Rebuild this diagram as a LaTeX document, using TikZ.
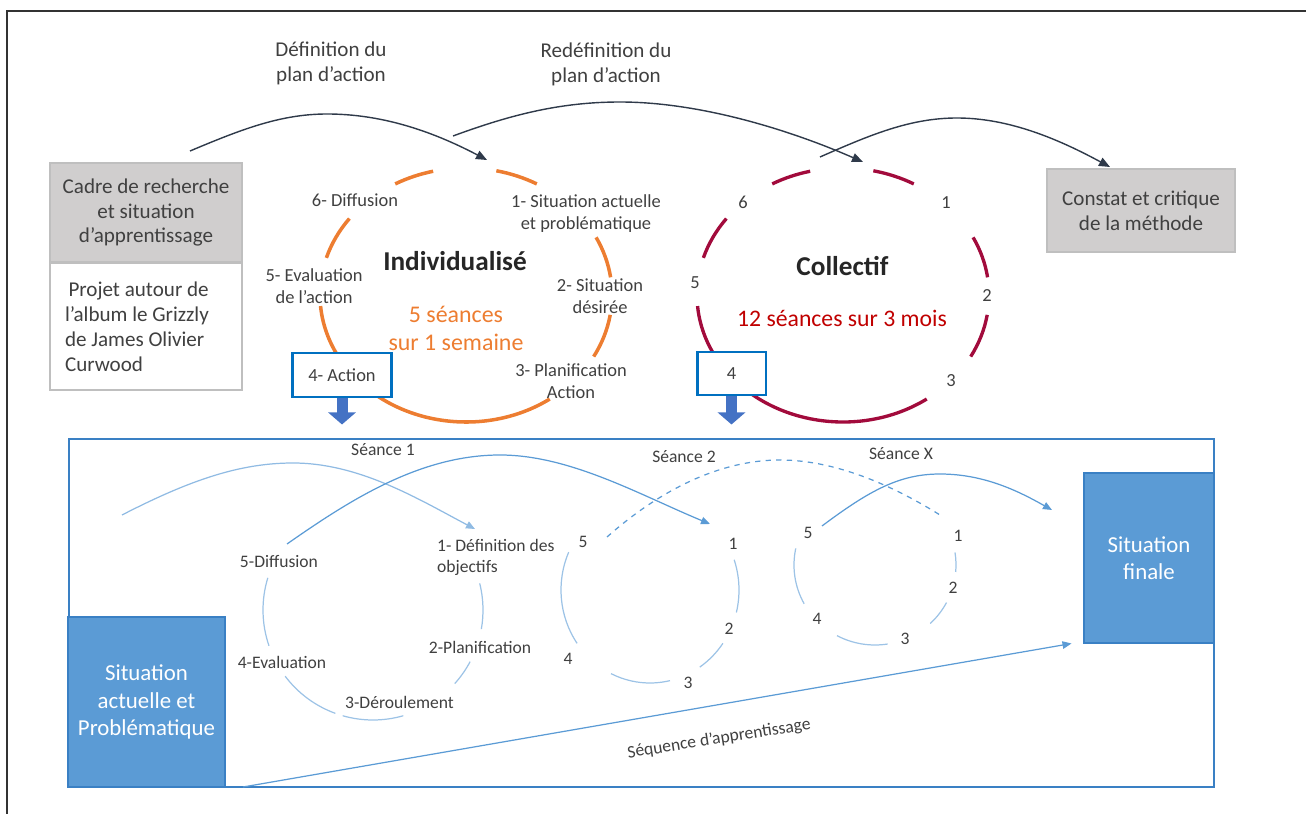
\documentclass[tikz,border=0pt]{standalone}
\usepackage{fontspec}
\setmainfont{Carlito}
\usepackage{xcolor}
\usetikzlibrary{arrows.meta,calc}
\definecolor{txt}{HTML}{404040}
\definecolor{orng}{HTML}{ED7D31}
\definecolor{crim}{HTML}{A20B3C}
\definecolor{redtxt}{HTML}{C00000}
\definecolor{boxblue}{HTML}{0070C0}
\definecolor{blockblue}{HTML}{4472C4}
\definecolor{fillblue}{HTML}{5B9BD5}
\definecolor{frameblue}{HTML}{3A80C4}
\definecolor{lineblue}{HTML}{5B9BD5}
\definecolor{lightblue}{HTML}{9DC3E6}
\definecolor{boxgray}{HTML}{D0CECE}
\definecolor{boxline}{HTML}{BFBFBF}
\definecolor{arrdark}{HTML}{2F3A4A}
\tikzset{
  lbl/.style={font=\fontsize{10.5}{12.5}\selectfont, text=txt, align=center, inner sep=1pt},
  slbl/.style={font=\fontsize{10}{12}\selectfont, text=txt, align=center, inner sep=1pt},
  ttl/.style={font=\fontsize{12}{14.2}\selectfont, text=txt, align=center, inner sep=1pt},
  graybox/.style={ttl, draw=boxline, fill=boxgray, line width=0.8pt},
  blbox/.style={lbl, draw=boxblue, line width=1.7pt, fill=white, inner sep=0pt},
  solidbox/.style={draw=frameblue, line width=0.6pt, fill=fillblue, text=white, align=center, font=\fontsize{13}{15.6}\selectfont},
  orarc/.style={draw=orng, line width=2pt},
  rdarc/.style={draw=crim, line width=1.9pt},
  cyc/.style={draw=lightblue, line width=0.7pt},
  arr/.style={draw=arrdark, line width=0.8pt, -{Triangle[length=2.2mm,width=1.8mm]}},
  barr/.style={draw=lineblue, line width=0.7pt, -{Triangle[length=1.8mm,width=1.5mm]}},
  blockarr/.style={draw=blockblue, line width=0.22cm, -{Triangle[length=0.24cm,width=0.54cm]}}}

\begin{document}
\begin{tikzpicture}[x=0.02cm,y=-0.02cm]
  \useasboundingbox (0,0) rectangle (1306,814);
  % frame
  \draw[line width=0.7pt, black!80] (7,814) -- (7,11) -- (1306,11);

  % left and right boxes
  \node[graybox, minimum width=3.84cm, minimum height=1.98cm] (cadre) at (146,212.5) {Cadre de recherche\\et situation\\d’apprentissage};
  \node[ttl, draw=boxline, line width=0.8pt, fill=white, align=flush left, text width=3.24cm, inner xsep=0.3cm, minimum height=2.54cm] (projet) at (146,326.5) {\,Projet autour de\\l’album le Grizzly\\de James Olivier\\Curwood};
  \node[graybox, minimum width=3.76cm, minimum height=1.66cm] (constat) at (1141,210.5) {Constat et critique\\de la méthode};

  % the two cycles
  \coordinate (ind) at (466,295);
  \coordinate (col) at (843,295);
  \foreach \a/\b in {241/257,282/299,333/352,9/29,55/175,197/217}{
    \draw[orarc] (ind) ++(\a:146 and 127) arc[start angle=\a, end angle=\b, x radius=146, y radius=127];
    \draw[rdarc] (col) ++(\a:146 and 127) arc[start angle=\a, end angle=\b, x radius=146, y radius=127];
  }
  \node[font=\bfseries\fontsize{15.5}{18}\selectfont, text=black!85] (indt) at (455,261) {Individualisé};
  \node[font=\fontsize{13.6}{16.4}\selectfont, text=orng, align=center] (indn) at (456,328.5) {5 séances\\sur 1 semaine};
  \node[lbl] (i6) at (355,200) {6- Diffusion};
  \node[lbl] (i1) at (586,214) {1- Situation actuelle\\et problématique};
  \node[lbl] (i5) at (314,286) {5- Evaluation\\de l’action};
  \node[lbl] (i2) at (600,296) {2- Situation\\désirée};
  \node[lbl] (i3) at (571,381) {3- Planification\\Action};
  \node[blbox, minimum width=2cm, minimum height=0.88cm] (action) at (342,375) {4- Action};

  \node[font=\bfseries\fontsize{15.5}{18}\selectfont, text=black!85] (colt) at (842.5,266) {Collectif};
  \node[font=\fontsize{13.5}{16}\selectfont, text=redtxt] (coln) at (842,318) {12 séances sur 3 mois};
  \node[lbl] (c6) at (743,202) {6};
  \node[lbl] (c1) at (946,203) {1};
  \node[lbl] (c5) at (695,283) {5};
  \node[lbl] (c2) at (987,296) {2};
  \node[lbl] (c3) at (951,381) {3};
  \node[blbox, minimum width=1.38cm, minimum height=0.86cm] (four) at (731.5,373.5) {4};

  \draw[blockarr] (action.south) -- ++(0,26);
  \draw[blockarr] (four.south) -- ++(0,28);

  % plan d'action arrows
  \node[ttl] (def) at (331,63.5) {Définition du\\plan d’action};
  \node[ttl] (redef) at (606,64) {Redéfinition du\\plan d’action};
  \coordinate (a1s) at (190,151);  \coordinate (a1e) at (487,160);
  \coordinate (a2s) at (453,136);  \coordinate (a2e) at (863,162);
  \coordinate (a3s) at (820,157);  \coordinate (a3e) at (1110,167);
  \draw[arr] (a1s) .. controls (240,130) and (280,114) .. (327,114) .. controls (380,114) and (430,130) .. (a1e);
  \draw[arr] (a2s) .. controls (510,115) and (560,102) .. (620,102) .. controls (700,102) and (790,130) .. (a2e);
  \draw[arr] (a3s) .. controls (870,135) and (910,118) .. (957,118) .. controls (1010,118) and (1060,140) .. (a3e);

  % learning sequence
  \draw[draw=frameblue, line width=0.8pt] (69,439) rectangle (1214,787);
  \node[solidbox, minimum width=3.14cm, minimum height=3.4cm] (actuelle) at (146.5,702) {Situation\\actuelle et\\Problématique};
  \node[solidbox, minimum width=2.6cm, minimum height=3.4cm] (finale) at (1149,558) {Situation\\finale};

  \coordinate (s1) at (373,610);
  \coordinate (s2) at (650,590);
  \coordinate (sx) at (875,565);
  \foreach \a/\b in {161/197,110/143,74/106,28/42,-14/10}
    \draw[cyc] (s1) ++(\a:110 and 110) arc[start angle=\a, end angle=\b, x radius=110, y radius=110];
  \foreach \a/\b in {145/204,77/116,35/56,-19/14}
    \draw[cyc] (s2) ++(\a:89 and 93) arc[start angle=\a, end angle=\b, x radius=89, y radius=93];
  \foreach \a/\b in {151/192,81/118,28/47,-9/5}
    \draw[cyc] (sx) ++(\a:81 and 80) arc[start angle=\a, end angle=\b, x radius=81, y radius=80];

  \node[slbl] (seance1) at (383,450) {Séance 1};
  \node[slbl] (seance2) at (684,457) {Séance 2};
  \node[slbl] (seancex) at (901,454) {Séance X};

  \node[slbl] (d5) at (279,561) {5-Diffusion};
  \node[slbl, align=left, anchor=west] (d1) at (435,557.5) {1- Définition des\\objectifs};
  \node[slbl] (d4) at (282,662) {4-Evaluation};
  \node[slbl] (d2) at (480,647) {2-Planification};
  \node[slbl] (d3) at (399.5,702) {3-Déroulement};

  \node[slbl] (e5) at (583,542) {5};
  \node[slbl] (e1) at (733,544) {1};
  \node[slbl] (e2) at (729,629) {2};
  \node[slbl] (e3) at (688,683) {3};
  \node[slbl] (e4) at (568,659) {4};

  \node[slbl] (x5) at (808,533) {5};
  \node[slbl] (x1) at (958,536) {1};
  \node[slbl] (x2) at (953,588) {2};
  \node[slbl] (x3) at (905,639) {3};
  \node[slbl] (x4) at (817,619) {4};

  \coordinate (b0s) at (122,515);  \coordinate (b0e) at (475,529);
  \coordinate (b1s) at (287,544);  \coordinate (b1e) at (710,524);
  \coordinate (b2s) at (607,537);  \coordinate (b2e) at (940,515);
  \coordinate (b3s) at (822,526);  \coordinate (b3e) at (1052,510);
  \draw[barr, draw=lightblue!80!lineblue] (b0s) .. controls (190,480) and (240,463) .. (293,463) .. controls (360,463) and (420,500) .. (b0e);
  \draw[barr] (b1s) .. controls (350,500) and (420,455) .. (500,455) .. controls (570,455) and (640,495) .. (b1e);
  \draw[draw=lineblue, line width=0.7pt, dashed] (b2s) .. controls (660,490) and (720,460) .. (780,460) .. controls (840,460) and (900,490) .. (b2e);
  \draw[barr] (b3s) .. controls (870,490) and (900,474) .. (940,474) .. controls (985,474) and (1020,492) .. (b3e);

  \coordinate (seqs) at (243,787);
  \coordinate (seqe) at ($(finale.south west)+(-12,0)$);
  \draw[barr] (seqs) -- (seqe);
  \node[slbl, rotate=9] (seq) at (719,739) {Séquence d’apprentissage};
\end{tikzpicture}
\end{document}
